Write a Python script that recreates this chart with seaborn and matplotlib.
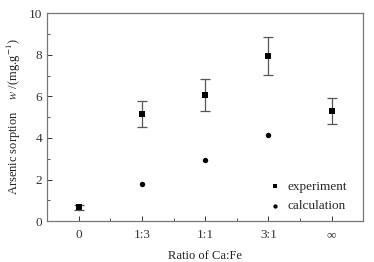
import numpy as np
import pandas as pd
import matplotlib
matplotlib.use("Agg")
import matplotlib.pyplot as plt
import seaborn as sns
from matplotlib.ticker import MultipleLocator

# data
ratios = ["0", "1:3", "1:1", "3:1", "\u221e"]
experiment = [0.67, 5.14, 6.06, 7.93, 5.29]
exp_error = [0.12, 0.62, 0.77, 0.90, 0.63]
calc_ratios = ["1:3", "1:1", "3:1"]
calculation = [1.80, 2.95, 4.12]

sns.set_style("ticks")
plt.rcParams["font.family"] = ["Liberation Serif", "DejaVu Serif"]
plt.rcParams["mathtext.fontset"] = "stix"
plt.rcParams["xtick.direction"] = "in"
plt.rcParams["ytick.direction"] = "in"

exp_df = pd.DataFrame({"pos": np.arange(len(ratios)), "value": experiment, "err": exp_error})
calc_df = pd.DataFrame({"pos": [ratios.index(r) for r in calc_ratios], "value": calculation})

fig = plt.figure(figsize=(3.74, 2.62), dpi=100)
ax = fig.add_axes([0.126, 0.156, 0.845, 0.794])

ax.errorbar(exp_df["pos"], exp_df["value"], yerr=exp_df["err"], fmt="none",
            ecolor="#555555", elinewidth=0.9, capsize=3.5, capthick=0.9)
sns.scatterplot(data=exp_df, x="pos", y="value", marker="s", s=15, color="black",
                edgecolor="black", linewidth=0, label="experiment", ax=ax, zorder=3)
sns.scatterplot(data=calc_df, x="pos", y="value", marker="o", s=15, color="black",
                edgecolor="black", linewidth=0, label="calculation", ax=ax, zorder=3)

ax.set_xlim(-0.5, 4.5)
ax.set_ylim(0, 10)
ax.set_xticks(range(len(ratios)))
ax.set_xticklabels(ratios)
ax.xaxis.set_minor_locator(MultipleLocator(0.5))
ax.yaxis.set_major_locator(MultipleLocator(2))
ax.yaxis.set_minor_locator(MultipleLocator(1))
ax.tick_params(which="major", length=3.5, width=0.7, labelsize=9.5, colors="#333333")
ax.tick_params(which="minor", length=2, width=0.7, colors="#555555")
ax.tick_params(axis="x", pad=6)

for s in ax.spines.values():
    s.set_color("#777777")
    s.set_linewidth(0.9)

ax.set_xlabel("Ratio of Ca:Fe", fontsize=9, color="#222222", labelpad=6)
ax.set_ylabel("Arsenic sorption    $w$ /(mg.g$^{-1}$)", fontsize=9, color="#222222", labelpad=4)

leg = ax.legend(loc="lower right", bbox_to_anchor=(0.985, -0.015), frameon=False,
                fontsize=9.5, handletextpad=0.1, markerscale=0.8, labelspacing=0.55,
                handlelength=1.6)

fig.savefig("out.png", dpi=100)
